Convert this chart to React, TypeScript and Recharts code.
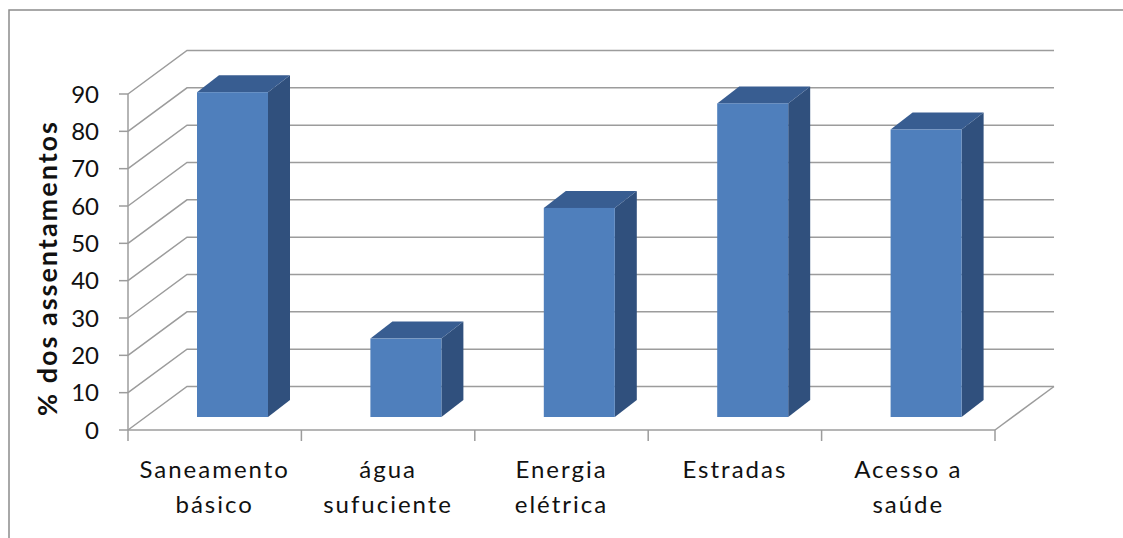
import React from "react";
import { BarChart, Bar, XAxis, YAxis, CartesianGrid, Customized } from "recharts";

// data
const categories = [
  "Saneamento básico",
  "água sufuciente",
  "Energia elétrica",
  "Estradas",
  "Acesso a saúde",
];
const percentages = [87, 21, 56, 84, 77];
const yTicks = [0, 10, 20, 30, 40, 50, 60, 70, 80, 90];

const data = categories.map((name, i) => ({ name, value: percentages[i] }));

const W = 1123;
const H = 538;
const MARGIN = { top: 94, right: 128, bottom: 8, left: 20 };
const PLOT_LEFT = 128;
const PLOT_BOTTOM = 430;
const PLOT_WIDTH = W - PLOT_LEFT - MARGIN.right;
const BAND = PLOT_WIDTH / categories.length;

// 3d depth of the floor / walls
const DX = 59;
const DY = -43.5;
// bar sits at ~30% of the depth, and is ~37% deep
const SHIFT_X = 18;
const SHIFT_Y = -13;
const BAR_DX = 22;
const BAR_DY = -17;

const FONT = "Lato, 'Open Sans', sans-serif";
const GRID = "#9c9c9c";

const Bar3D = (props: any) => {
  const { x, y, width, height } = props;
  if (width == null || height == null) return null;
  const fx = x + SHIFT_X;
  const fy = y + SHIFT_Y;
  const fb = fy + height;
  const top = `${fx},${fy} ${fx + BAR_DX},${fy + BAR_DY} ${fx + width + BAR_DX},${fy + BAR_DY} ${fx + width},${fy}`;
  const side = `${fx + width},${fy} ${fx + width + BAR_DX},${fy + BAR_DY} ${fx + width + BAR_DX},${fb + BAR_DY} ${fx + width},${fb}`;
  return (
    <g>
      <polygon points={side} fill="#30507d" />
      <polygon points={top} fill="#385d91" />
      <rect x={fx} y={fy} width={width} height={height} fill="#4f7fbc" />
    </g>
  );
};

const gridLine = (props: any) => {
  const { x1, y1, x2 } = props;
  const isFloor = Math.abs(y1 - PLOT_BOTTOM) < 1;
  return (
    <g key={`grid-${y1}`}>
      <path
        d={`M${x1},${y1} L${x1 + DX},${y1 + DY} L${x2 + DX},${y1 + DY}`}
        stroke={GRID}
        strokeWidth={1.5}
        fill="none"
      />
      {isFloor && (
        <line x1={x2} y1={y1} x2={x2 + DX} y2={y1 + DY} stroke={GRID} strokeWidth={1.5} />
      )}
    </g>
  );
};

const splitLabel = (s: string) => {
  const i = s.lastIndexOf(" ");
  return i < 0 ? [s] : [s.slice(0, i), s.slice(i + 1)];
};

const CatTick = (props: any) => {
  const { x, payload, index } = props;
  const lines = splitLabel(payload.value);
  const left = x - BAND / 2;
  const last = index === categories.length - 1;
  return (
    <g>
      <line x1={left} y1={PLOT_BOTTOM} x2={left} y2={PLOT_BOTTOM + 11} stroke={GRID} strokeWidth={1.5} />
      {last && (
        <line x1={left + BAND} y1={PLOT_BOTTOM} x2={left + BAND} y2={PLOT_BOTTOM + 11} stroke={GRID} strokeWidth={1.5} />
      )}
      {lines.map((l, i) => (
        <text
          key={i}
          x={x}
          y={PLOT_BOTTOM + 48 + i * 35}
          textAnchor="middle"
          fontSize={24}
          fontFamily={FONT}
          letterSpacing={2}
          fill="#111"
        >
          {l}
        </text>
      ))}
    </g>
  );
};

const Decor = () => (
  <g>
    <rect x={9} y={10} width={1130} height={545} fill="none" stroke="#8c8c8c" strokeWidth={1.5} />
    <text
      transform="translate(57, 268) rotate(-90)"
      textAnchor="middle"
      fontSize={27}
      fontWeight="bold"
      fontFamily={FONT}
      letterSpacing={2}
      fill="#111"
    >
      % dos assentamentos
    </text>
  </g>
);

export default function App() {
  return (
    <div style={{ position: "absolute", left: 0, top: 0, background: "#fff" }}>
      <BarChart width={W} height={H} data={data} margin={MARGIN} barSize={71}>
        <Customized component={<Decor />} />
        <CartesianGrid horizontal={gridLine} vertical={false} />
        <XAxis
          dataKey="name"
          interval={0}
          height={100}
          tickLine={false}
          axisLine={{ stroke: GRID, strokeWidth: 1.5 }}
          tick={<CatTick />}
        />
        <YAxis
          width={108}
          domain={[0, 90]}
          ticks={yTicks}
          interval={0}
          tickSize={9}
          tickMargin={20}
          tickLine={{ stroke: GRID, strokeWidth: 1.5 }}
          axisLine={{ stroke: GRID, strokeWidth: 1.5 }}
          tick={{ fontSize: 24, fill: "#111", fontFamily: FONT }}
        />
        <Bar dataKey="value" shape={<Bar3D />} isAnimationActive={false} />
      </BarChart>
    </div>
  );
}
